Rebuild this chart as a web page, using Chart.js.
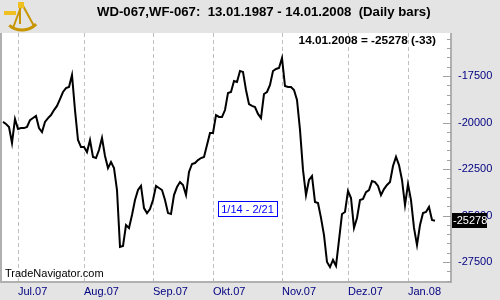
<!DOCTYPE html>
<html>
<head>
<meta charset="utf-8">
<script src="https://cdn.jsdelivr.net/npm/chart.js@4.4.0/dist/chart.umd.min.js"></script>
<style>
  html, body { margin: 0; padding: 0; background: #e4e4e4; }
  #wrap { width: 500px; height: 300px; }
</style>
</head>
<body>
<div id="wrap"><canvas id="chart" width="500" height="300"></canvas></div>
<script>
// Daily closes, late Jun 2007 .. 14 Jan 2008 (one value per trading day)
const closes = [
  -19970, -20080, -20240, -21100, -19810, -20350, -20300, -20300, -20240, -19870,
  -19760, -19650, -20300, -20510, -19970, -19760, -19600, -19330, -19110, -18740,
  -18360, -18150, -18090, -17450, -19330, -20940, -21320, -21320, -21590, -20940,
  -21850, -21910, -21480, -20830, -21800, -22450, -22120, -22450, -23630, -26690,
  -26640, -25510, -25670, -24970, -24170, -23630, -23410, -24600, -24870, -24650,
  -24170, -23410, -23520, -23630, -24170, -24870, -24920, -23900, -23470, -23200,
  -23360, -23900, -22660, -22230, -22180, -22020, -21910, -21850, -21210, -20560,
  -20560, -19600, -19700, -19700, -19330, -18410, -18360, -17770, -17820, -17230,
  -17280, -18250, -19010, -19110, -19170, -19540, -19760, -18470, -18360, -17980,
  -17230, -17120, -17070, -16530, -18040, -18090, -18090, -18250, -18790, -20400,
  -22550, -23900, -23090, -22880, -24270, -24330, -25130, -26050, -27500, -27770,
  -27390, -27710, -26320, -24920, -24810, -23680, -24060, -25670, -25130, -24170,
  -24110, -23740, -23630, -23150, -23200, -23410, -23900, -23580, -23360, -23200,
  -22340, -21850, -22290, -23090, -24440, -23310, -24170, -25670, -26590, -25510,
  -24870, -24810, -24540, -25240, -25278
];
// bar index where each month begins
const monthStart = [5, 27, 50, 70, 93, 115, 135];
const monthLabels = ['Jul.07', 'Aug.07', 'Sep.07', 'Okt.07', 'Nov.07', 'Dez.07', 'Jan.08'];
const yTicks = [-27500, -25000, -22500, -20000, -17500];
const yMinorStep = 500;
const yMin = -28575;
const yMax = -15188;

const titleText = 'WD-067,WF-067:  13.01.1987 - 14.01.2008  (Daily bars)';
const lastText = '14.01.2008 = -25278 (-33)';
const rangeText = '1/14 - 2/21';
const siteText = 'TradeNavigator.com';

const FONT = '"Liberation Sans", Arial, sans-serif';
const NAVY = '#000080';

const points = closes.map((v, i) => ({ x: i, y: v }));

// Frame, inner ticks, texts and badges
const decor = {
  id: 'decor',
  beforeDraw(chart) {
    const { ctx, chartArea: a } = chart;
    ctx.save();
    ctx.fillStyle = '#e4e4e4';
    ctx.fillRect(0, 0, chart.width, chart.height);
    ctx.fillStyle = '#ffffff';
    ctx.fillRect(a.left, a.top, a.right - a.left, a.bottom - a.top);
    ctx.restore();
  },
  afterDraw(chart) {
    const { ctx, chartArea: a } = chart;
    const ys = chart.scales.y;
    ctx.save();

    // plot frame
    ctx.strokeStyle = '#b0b0b0';
    ctx.lineWidth = 2;
    ctx.beginPath();
    ctx.moveTo(a.left, a.top);
    ctx.lineTo(a.left, a.bottom);
    ctx.lineTo(a.right, a.bottom);
    ctx.lineTo(a.right, a.top);
    ctx.stroke();

    // inner y ticks
    ctx.lineWidth = 1;
    ctx.strokeStyle = '#a0a0a0';
    for (let v = Math.ceil(yMin / yMinorStep) * yMinorStep; v <= yMax; v += yMinorStep) {
      const py = Math.round(ys.getPixelForValue(v)) + 0.5;
      const len = v % 2500 === 0 ? 8 : 4;
      ctx.beginPath();
      ctx.moveTo(a.right - len, py);
      ctx.lineTo(a.right, py);
      ctx.stroke();
    }

    // title
    ctx.fillStyle = '#000000';
    ctx.font = 'bold 13.2px ' + FONT;
    ctx.textAlign = 'left';
    ctx.textBaseline = 'middle';
    ctx.fillText(titleText, 97, 12);

    // last value caption
    ctx.font = 'bold 11.8px ' + FONT;
    ctx.textAlign = 'right';
    ctx.fillText(lastText, 436, 41);

    // site text
    ctx.font = '11px ' + FONT;
    ctx.textAlign = 'left';
    ctx.textBaseline = 'alphabetic';
    ctx.fillText(siteText, 5, 277);

    // date range box
    ctx.fillStyle = '#ffffff';
    ctx.fillRect(218, 201, 59, 15);
    ctx.strokeStyle = '#0000ff';
    ctx.strokeRect(218.5, 201.5, 59, 15);
    ctx.fillStyle = '#0000ff';
    ctx.textAlign = 'center';
    ctx.textBaseline = 'middle';
    ctx.fillText(rangeText, 247.5, 209.5);

    // last value badge
    const last = closes[closes.length - 1];
    const by = ys.getPixelForValue(last);
    ctx.fillStyle = '#000000';
    ctx.fillRect(452, Math.round(by) - 8, 35, 15);
    ctx.fillStyle = '#ffffff';
    ctx.font = '11px ' + FONT;
    ctx.textAlign = 'left';
    ctx.fillText(String(last), 453, Math.round(by));

    // logo (rough sextant)
    ctx.strokeStyle = '#c89600';
    ctx.fillStyle = '#f0c020';
    ctx.lineWidth = 3;
    ctx.beginPath();
    ctx.arc(22, 10, 20, Math.PI * 0.25, Math.PI * 0.72);
    ctx.stroke();
    ctx.lineWidth = 2;
    ctx.beginPath();
    ctx.moveTo(22, 4); ctx.lineTo(13, 28);
    ctx.moveTo(22, 4); ctx.lineTo(34, 26);
    ctx.moveTo(20, 6); ctx.lineTo(20, 24);
    ctx.stroke();
    ctx.fillRect(4, 11, 12, 4);
    ctx.fillRect(18, 2, 6, 6);
    ctx.restore();
  }
};

new Chart(document.getElementById('chart'), {
  type: 'line',
  data: {
    datasets: [{
      data: points,
      borderColor: '#000000',
      borderWidth: 2,
      pointRadius: 0,
      tension: 0,
      fill: false
    }]
  },
  options: {
    responsive: false,
    animation: false,
    devicePixelRatio: 1,
    layout: { padding: { top: 33, left: 1, right: 0, bottom: 0 } },
    plugins: { legend: { display: false }, tooltip: { enabled: false } },
    scales: {
      x: {
        type: 'linear',
        min: -2 / 3,
        max: 149 + 1 / 3,
        afterBuildTicks: s => { s.ticks = monthStart.map(v => ({ value: v })); },
        afterFit: s => { s.height = 18; },
        ticks: {
          callback: v => monthLabels[monthStart.indexOf(v)],
          autoSkip: false,
          maxRotation: 0,
          align: 'start',
          color: NAVY,
          font: { family: FONT, size: 11 },
          padding: 3
        },
        grid: { color: '#c0c0c0', lineWidth: 1, drawTicks: false },
        border: { display: false, dash: [4, 3] }
      },
      y: {
        position: 'right',
        min: yMin,
        max: yMax,
        afterBuildTicks: s => { s.ticks = yTicks.map(v => ({ value: v })); },
        afterFit: s => { s.width = 49; },
        ticks: {
          callback: v => String(v),
          color: NAVY,
          font: { family: FONT, size: 11 },
          padding: 7
        },
        grid: { display: false, drawTicks: false },
        border: { display: false }
      }
    }
  },
  plugins: [decor]
});
</script>
</body>
</html>
